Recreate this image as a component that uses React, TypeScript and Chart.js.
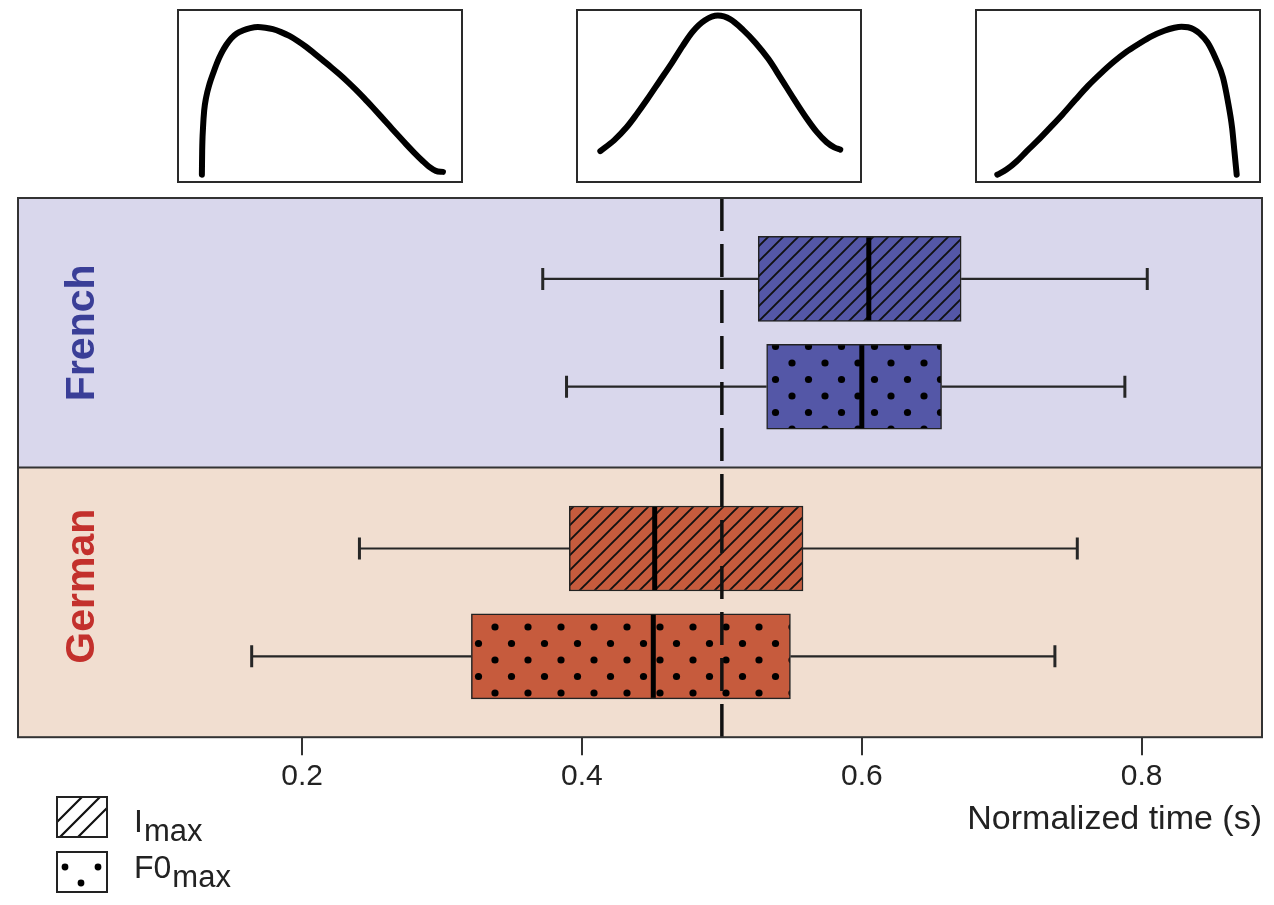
import React, { useEffect, useRef } from "react";
import { Chart, registerables } from "chart.js";

Chart.register(...registerables);

const FONT = "'Liberation Sans', Arial, Helvetica, sans-serif";

// ---------------- data ----------------
const groupNames = ["French", "German"];
const groupBandLow = [1, 0];
const groupBandHigh = [2, 1];
const groupLabelY = [1.5, 0.56];

const rowGroup = ["French", "French", "German", "German"];
const rowMeasure = ["Imax", "F0max", "Imax", "F0max"];
const rowY = [1.7, 1.3, 0.7, 0.3];
const whiskerLow = [0.372, 0.389, 0.241, 0.164];
const quartile1 = [0.526, 0.532, 0.391, 0.321];
const medians = [0.605, 0.6, 0.452, 0.451];
const quartile3 = [0.671, 0.657, 0.558, 0.549];
const whiskerHigh = [0.804, 0.788, 0.754, 0.738];

const xTicks = [0.2, 0.4, 0.6, 0.8];
const referenceTime = 0.5;
const xAxisTitle = "Normalized time (s)";

// contour shapes shown above the panel (normalized time, normalized height)
const earlyPeakX = [0.087, 0.088, 0.091, 0.095, 0.102, 0.114, 0.126, 0.14, 0.155, 0.172, 0.19, 0.209, 0.23, 0.256, 0.283, 0.309, 0.335, 0.364, 0.393, 0.422, 0.451, 0.48, 0.509, 0.538, 0.567, 0.597, 0.626, 0.655, 0.684, 0.713, 0.742, 0.771, 0.8, 0.829, 0.858, 0.881, 0.905, 0.93];
const earlyPeakY = [0.048, 0.184, 0.319, 0.416, 0.493, 0.571, 0.629, 0.691, 0.745, 0.793, 0.832, 0.859, 0.876, 0.89, 0.896, 0.892, 0.884, 0.867, 0.845, 0.816, 0.783, 0.745, 0.706, 0.667, 0.626, 0.581, 0.535, 0.486, 0.435, 0.383, 0.33, 0.277, 0.225, 0.175, 0.128, 0.094, 0.07, 0.064];
const midPeakX = [0.085, 0.133, 0.177, 0.212, 0.248, 0.292, 0.336, 0.372, 0.407, 0.451, 0.496, 0.54, 0.584, 0.628, 0.673, 0.717, 0.761, 0.805, 0.841, 0.876, 0.903, 0.924];
const midPeakY = [0.183, 0.245, 0.32, 0.395, 0.478, 0.585, 0.692, 0.785, 0.868, 0.935, 0.962, 0.94, 0.88, 0.805, 0.712, 0.6, 0.485, 0.375, 0.295, 0.235, 0.205, 0.192];
const latePeakX = [0.078, 0.11, 0.146, 0.181, 0.217, 0.262, 0.306, 0.351, 0.395, 0.44, 0.484, 0.528, 0.573, 0.617, 0.662, 0.697, 0.722, 0.745, 0.765, 0.785, 0.813, 0.84, 0.867, 0.884, 0.899, 0.907, 0.915];
const latePeakY = [0.048, 0.077, 0.125, 0.183, 0.24, 0.317, 0.394, 0.478, 0.558, 0.63, 0.695, 0.752, 0.8, 0.843, 0.875, 0.892, 0.898, 0.895, 0.883, 0.86, 0.808, 0.721, 0.606, 0.471, 0.317, 0.183, 0.048];

const legendNames = ["I", "F0"];
const legendSub = "max";

// ---------------- styles ----------------
const groupBg = ["#d9d7ec", "#f1ded0"];
const groupBox = ["#5457a7", "#c65b3d"];
const groupText = ["#3a3e97", "#c3302c"];
const BAR_THICK = 85;

function makeHatch(fill: string): CanvasPattern {
  const s = 15;
  const c = document.createElement("canvas");
  c.width = s;
  c.height = s;
  const g = c.getContext("2d")!;
  g.fillStyle = fill;
  g.fillRect(0, 0, s, s);
  g.strokeStyle = "#111";
  g.lineWidth = 1.9;
  g.beginPath();
  g.moveTo(-2, s + 2);
  g.lineTo(s + 2, -2);
  g.moveTo(-2, 2);
  g.lineTo(2, -2);
  g.moveTo(s - 2, s + 2);
  g.lineTo(s + 2, s - 2);
  g.stroke();
  return g.createPattern(c, "repeat")!;
}

function makeDots(fill: string): CanvasPattern {
  const s = 33;
  const c = document.createElement("canvas");
  c.width = s;
  c.height = s;
  const g = c.getContext("2d")!;
  g.fillStyle = fill;
  g.fillRect(0, 0, s, s);
  g.fillStyle = "#000";
  const pts = [
    [0, 0],
    [s, 0],
    [0, s],
    [s, s],
    [s / 2, s / 2],
  ];
  for (const [px, py] of pts) {
    g.beginPath();
    g.arc(px, py, 3.6, 0, Math.PI * 2);
    g.fill();
  }
  return g.createPattern(c, "repeat")!;
}

function BoxPanel() {
  const ref = useRef<HTMLCanvasElement>(null);
  useEffect(() => {
    const canvas = ref.current!;
    const patternFor = (i: number) => {
      const gi = groupNames.indexOf(rowGroup[i]);
      return rowMeasure[i] === "Imax" ? makeHatch(groupBox[gi]) : makeDots(groupBox[gi]);
    };
    const makeDataset = (measure: string) => {
      const idx = rowMeasure.map((m, i) => (m === measure ? i : -1)).filter((i) => i >= 0);
      return {
        label: measure,
        data: idx.map((i) => ({ x: [quartile1[i], quartile3[i]], y: rowY[i] })),
        backgroundColor: idx.map((i) => patternFor(i)),
        borderColor: "#222",
        borderWidth: 1.5,
        borderSkipped: false,
        barThickness: BAR_THICK,
        grouped: false,
      };
    };

    const decor = {
      id: "decor",
      beforeDatasetsDraw(chart: any) {
        const { ctx, chartArea: a, scales } = chart;
        const y = scales.y;
        ctx.save();
        groupNames.forEach((_, gi) => {
          const top = y.getPixelForValue(groupBandHigh[gi]);
          const bot = y.getPixelForValue(groupBandLow[gi]);
          ctx.fillStyle = groupBg[gi];
          ctx.fillRect(a.left, top, a.right - a.left, bot - top);
        });
        ctx.restore();
      },
      afterDatasetsDraw(chart: any) {
        const { ctx, chartArea: a, scales } = chart;
        const x = scales.x;
        const y = scales.y;
        ctx.save();
        for (let i = 0; i < rowY.length; i++) {
          const py = y.getPixelForValue(rowY[i]);
          const xl = x.getPixelForValue(whiskerLow[i]);
          const x1 = x.getPixelForValue(quartile1[i]);
          const x3 = x.getPixelForValue(quartile3[i]);
          const xh = x.getPixelForValue(whiskerHigh[i]);
          ctx.strokeStyle = "#262626";
          ctx.lineWidth = 2.2;
          ctx.beginPath();
          ctx.moveTo(xl, py);
          ctx.lineTo(x1, py);
          ctx.moveTo(x3, py);
          ctx.lineTo(xh, py);
          ctx.stroke();
          ctx.lineWidth = 3;
          ctx.beginPath();
          ctx.moveTo(xl, py - 11);
          ctx.lineTo(xl, py + 11);
          ctx.moveTo(xh, py - 11);
          ctx.lineTo(xh, py + 11);
          ctx.stroke();
          const xm = x.getPixelForValue(medians[i]);
          ctx.strokeStyle = "#000";
          ctx.lineWidth = 5;
          ctx.beginPath();
          ctx.moveTo(xm, py - BAR_THICK / 2 + 1);
          ctx.lineTo(xm, py + BAR_THICK / 2 - 1);
          ctx.stroke();
        }
        // reference dashed line
        const xr = x.getPixelForValue(referenceTime);
        ctx.strokeStyle = "#111";
        ctx.lineWidth = 3.5;
        ctx.setLineDash([33, 13]);
        ctx.beginPath();
        ctx.moveTo(xr, a.top);
        ctx.lineTo(xr, a.bottom);
        ctx.stroke();
        ctx.setLineDash([]);
        // panel border + divider
        ctx.strokeStyle = "#333";
        ctx.lineWidth = 2;
        ctx.strokeRect(a.left, a.top, a.right - a.left, a.bottom - a.top);
        const yd = y.getPixelForValue(groupBandLow[0]);
        ctx.beginPath();
        ctx.moveTo(a.left, yd);
        ctx.lineTo(a.right, yd);
        ctx.stroke();
        // group labels
        groupNames.forEach((name, gi) => {
          const cy = y.getPixelForValue(groupLabelY[gi]);
          ctx.save();
          ctx.translate(a.left + 65, cy);
          ctx.rotate(-Math.PI / 2);
          ctx.fillStyle = groupText[gi];
          ctx.font = `bold 41px ${FONT}`;
          ctx.textAlign = "center";
          ctx.textBaseline = "middle";
          ctx.fillText(name, 0, 0);
          ctx.restore();
        });
        ctx.restore();
      },
      afterDraw(chart: any) {
        const { ctx } = chart;
        ctx.save();
        const lx = 57;
        const lw = 50;
        const lh = 40;
        const tops = [797, 852];
        // hatch key
        ctx.fillStyle = "#fff";
        ctx.fillRect(lx, tops[0], lw, lh);
        ctx.save();
        ctx.beginPath();
        ctx.rect(lx, tops[0], lw, lh);
        ctx.clip();
        ctx.strokeStyle = "#111";
        ctx.lineWidth = 2.2;
        ctx.beginPath();
        for (let k = -1; k <= 1; k++) {
          const bx = lx + 3 + k * 18;
          ctx.moveTo(bx, tops[0] + lh);
          ctx.lineTo(bx + lh, tops[0]);
        }
        ctx.stroke();
        ctx.restore();
        // dot key
        ctx.fillStyle = "#fff";
        ctx.fillRect(lx, tops[1], lw, lh);
        ctx.fillStyle = "#000";
        const dots = [
          [8, 15],
          [41, 15],
          [24, 31],
        ];
        for (const [dx, dy] of dots) {
          ctx.beginPath();
          ctx.arc(lx + dx, tops[1] + dy, 3.4, 0, Math.PI * 2);
          ctx.fill();
        }
        ctx.strokeStyle = "#222";
        ctx.lineWidth = 2;
        ctx.strokeRect(lx, tops[0], lw, lh);
        ctx.strokeRect(lx, tops[1], lw, lh);
        // key text
        ctx.fillStyle = "#222";
        ctx.textBaseline = "alphabetic";
        ctx.textAlign = "left";
        const baselines = [832, 878];
        legendNames.forEach((nm, i) => {
          ctx.font = `32px ${FONT}`;
          ctx.fillText(nm, 134, baselines[i]);
          const w = ctx.measureText(nm).width;
          ctx.font = `31px ${FONT}`;
          ctx.fillText(legendSub, 134 + w + 1, baselines[i] + 9);
        });
        ctx.restore();
      },
    };

    const chart = new Chart(canvas, {
      type: "bar",
      data: {
        datasets: [makeDataset("Imax"), makeDataset("F0max")] as any,
      },
      options: {
        indexAxis: "y",
        animation: false,
        responsive: false,
        layout: { padding: { left: 18, right: 12, top: 198, bottom: 65 } },
        plugins: {
          legend: { display: false },
          tooltip: { enabled: false },
        },
        scales: {
          x: {
            type: "linear",
            min: -0.003,
            max: 0.886,
            afterBuildTicks: (s: any) => {
              s.ticks = xTicks.map((v) => ({ value: v }));
            },
            grid: {
              drawOnChartArea: false,
              drawTicks: true,
              tickLength: 18,
              color: "#333",
              lineWidth: 2,
            },
            border: { display: false },
            ticks: {
              font: { family: FONT, size: 30 },
              color: "#222",
              padding: 4,
              maxRotation: 0,
              autoSkip: false,
              callback: (v: any) => Number(v).toFixed(1),
            },
            title: {
              display: true,
              text: xAxisTitle,
              align: "end",
              color: "#222",
              font: { family: FONT, size: 34 },
              padding: { top: 0, bottom: 0 },
            },
          },
          y: {
            type: "linear",
            min: 0,
            max: 2,
            display: false,
            offset: false,
          },
        },
      } as any,
      plugins: [decor],
    });
    return () => chart.destroy();
  }, []);
  return (
    <canvas
      ref={ref}
      width={1274}
      height={905}
      style={{ position: "absolute", left: 0, top: 0 }}
    />
  );
}

function Shape({ xs, ys, left }: { xs: number[]; ys: number[]; left: number }) {
  const ref = useRef<HTMLCanvasElement>(null);
  useEffect(() => {
    const frame = {
      id: "frame",
      afterDraw(chart: any) {
        const { ctx, width, height } = chart;
        ctx.save();
        ctx.strokeStyle = "#2a2a2a";
        ctx.lineWidth = 2;
        ctx.strokeRect(1, 1, width - 2, height - 2);
        ctx.restore();
      },
    };
    const chart = new Chart(ref.current!, {
      type: "line",
      data: {
        datasets: [
          {
            data: xs.map((x, i) => ({ x, y: ys[i] })),
            borderColor: "#000",
            borderWidth: 6,
            pointRadius: 0,
            cubicInterpolationMode: "monotone",
            borderCapStyle: "round",
            borderJoinStyle: "round",
            fill: false,
          },
        ],
      },
      options: {
        animation: false,
        responsive: false,
        layout: { padding: 0, autoPadding: false },
        plugins: { legend: { display: false }, tooltip: { enabled: false } },
        scales: {
          x: { type: "linear", min: 0, max: 1, display: false },
          y: { type: "linear", min: 0, max: 1, display: false },
        },
      } as any,
      plugins: [frame],
    });
    return () => chart.destroy();
  }, [xs, ys]);
  return (
    <canvas
      ref={ref}
      width={286}
      height={174}
      style={{ position: "absolute", left, top: 9 }}
    />
  );
}

export default function App() {
  return (
    <div
      style={{
        position: "fixed",
        left: 0,
        top: 0,
        width: 1274,
        height: 905,
        background: "#fff",
        overflow: "hidden",
      }}
    >
      <BoxPanel />
      <Shape xs={earlyPeakX} ys={earlyPeakY} left={177} />
      <Shape xs={midPeakX} ys={midPeakY} left={576} />
      <Shape xs={latePeakX} ys={latePeakY} left={975} />
    </div>
  );
}
